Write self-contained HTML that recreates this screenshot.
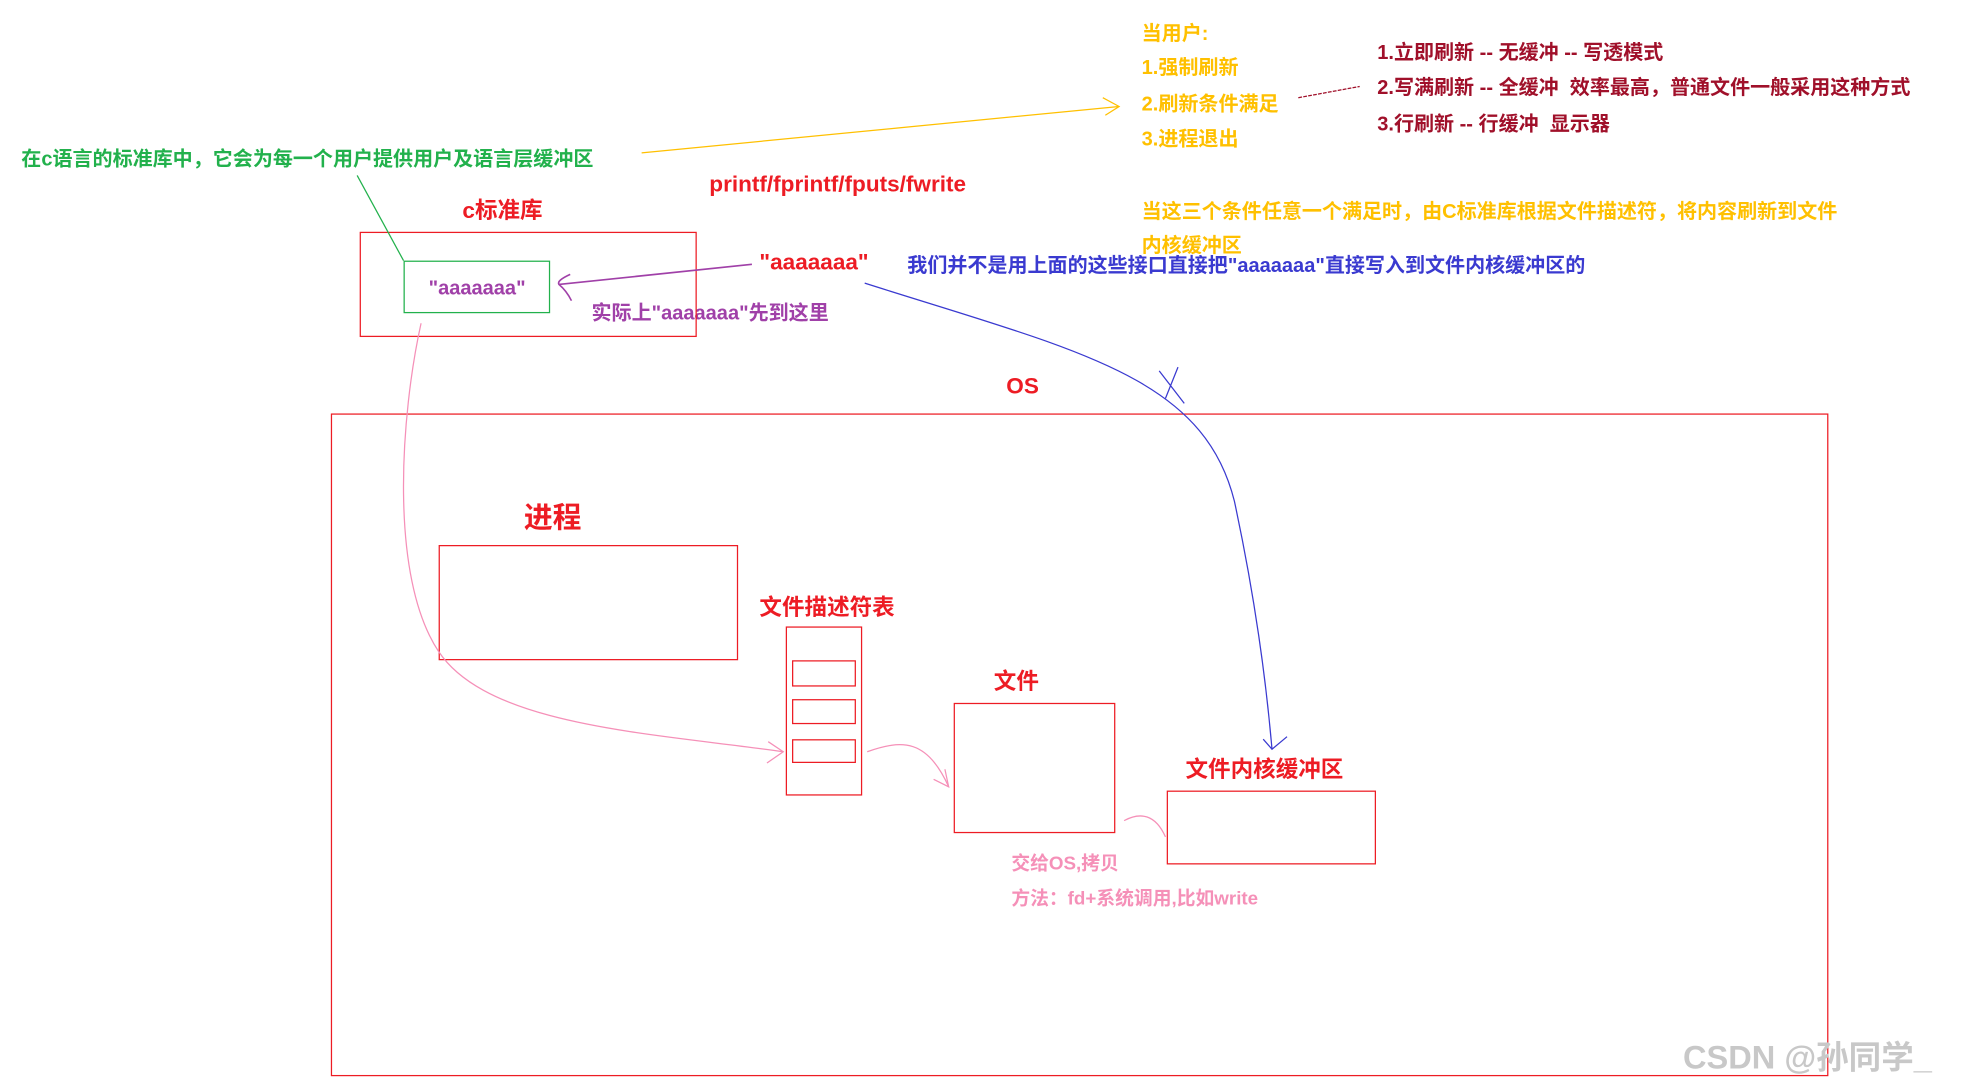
<!DOCTYPE html>
<html><head><meta charset="utf-8"><style>
html,body{margin:0;padding:0;background:#fff;width:1965px;height:1090px;overflow:hidden}
svg{display:block}
text{font-family:"Liberation Sans","Noto Sans CJK SC",sans-serif;font-weight:bold}
</style></head><body>
<svg width="1965" height="1090" viewBox="0 0 1568 870" preserveAspectRatio="none" xmlns="http://www.w3.org/2000/svg">
<g font-size="16">
<text x="911" y="32" fill="#ffc000">当用户:</text>
<text x="911" y="59" fill="#ffc000">1.强制刷新</text>
<text x="911" y="88" fill="#ffc000">2.刷新条件满足</text>
<text x="911" y="116" fill="#ffc000">3.进程退出</text>
<text x="1099" y="47" fill="#a0102a">1.立即刷新 -- 无缓冲 -- 写透模式</text>
<text x="1099" y="75" fill="#a0102a">2.写满刷新 -- 全缓冲 &#160;效率最高，普通文件一般采用这种方式</text>
<text x="1099" y="104" fill="#a0102a">3.行刷新 -- 行缓冲 &#160;显示器</text>
<text x="911" y="174" fill="#ffc000">当这三个条件任意一个满足时，由C标准库根据文件描述符，将内容刷新到文件</text>
<text x="911" y="201" fill="#ffc000">内核缓冲区</text>
<text x="724" y="217" fill="#3a3ad0">我们并不是用上面的这些接口直接把"aaaaaaa"直接写入到文件内核缓冲区的</text>
<text x="17" y="132" fill="#22b14c">在c语言的标准库中，它会为每一个用户提供用户及语言层缓冲区</text>
<text x="472" y="255" fill="#a040a8">实际上"aaaaaaa"先到这里</text>
<text x="342" y="235" fill="#a040a8" font-weight="normal">"aaaaaaa"</text>
<text x="807" y="694" fill="#f590b8" font-size="15">交给OS,拷贝</text>
<text x="807" y="722" fill="#f590b8" font-size="15">方法：fd+系统调用,比如write</text>
</g>
<g fill="#ed1c24" font-size="18">
<text x="566" y="153" font-weight="normal">printf/fprintf/fputs/fwrite</text>
<text x="369" y="174">c标准库</text>
<text x="606" y="215">"aaaaaaa"</text>
<text x="803" y="314">OS</text>
<text x="418" y="421" font-size="23">进程</text>
<text x="606" y="491">文件描述符表</text>
<text x="793" y="550">文件</text>
<text x="946" y="620">文件内核缓冲区</text>
</g>
<g fill="none" stroke="#ed1c24" stroke-width="1">
<rect x="287.5" y="185.5" width="268" height="83"/>
<rect x="264.5" y="330.5" width="1194" height="528"/>
<rect x="350.5" y="435.5" width="238" height="91"/>
<rect x="627.5" y="500.5" width="60" height="134"/>
<rect x="632.5" y="527.5" width="50" height="20"/>
<rect x="632.5" y="558.5" width="50" height="19"/>
<rect x="632.5" y="590.5" width="50" height="18"/>
<rect x="761.5" y="561.5" width="128" height="103"/>
<rect x="931.5" y="631.5" width="166" height="58"/>
</g>
<rect x="322.5" y="208.5" width="116" height="41" fill="none" stroke="#22b14c"/>
<line x1="285" y1="140" x2="322" y2="208" stroke="#22b14c"/>
<g fill="none" stroke="#ffc000">
<line x1="512" y1="122" x2="893" y2="85"/>
<path d="M880 78 L893 85 L882 92"/>
</g>
<line x1="1036" y1="78" x2="1085" y2="69" stroke="#a0102a" stroke-dasharray="3,1"/>
<g fill="none" stroke="#a040a8" stroke-width="1.3">
<line x1="446" y1="227" x2="600" y2="211"/>
<path d="M455 219 Q444 224 446 227 Q452 232 456 240"/>
</g>
<g fill="none" stroke="#3a3ad0" stroke-width="1">
<path d="M690 226 C860 280 960 300 985 400 C1000 470 1010 540 1015 598"/>
<path d="M1008 590 L1015 598 L1027 588"/>
<path d="M925 296 L945 322 M940 293 L930 318"/>
</g>
<g fill="none" stroke="#f590b8" stroke-width="1">
<path d="M336 258 C320 330 310 460 350 520 C390 580 520 585 625 600"/>
<path d="M613 592 L625 600 L612 609"/>
<path d="M692 600 C720 590 740 590 757 628"/>
<path d="M745 622 L757 628 L754 614"/>
<path d="M897 655 C910 648 922 650 930 668"/>
</g>
<text x="1343" y="853" fill="#c8c8c8" font-size="26" font-weight="normal">CSDN @孙同学_</text>
</svg>
</body></html>
